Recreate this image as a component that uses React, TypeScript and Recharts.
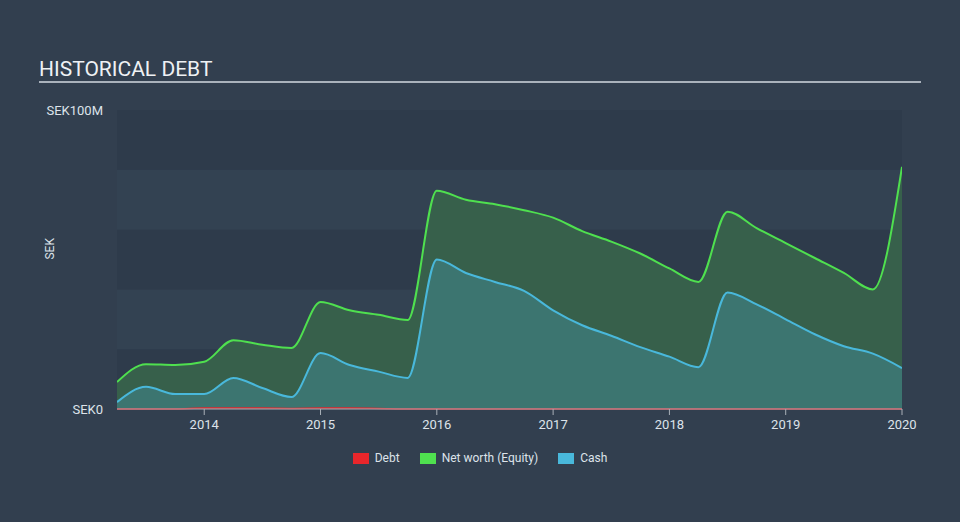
import React from 'react';
import { ComposedChart, Area, Line, XAxis, YAxis, ReferenceArea, Legend } from 'recharts';

const times = [2013.25, 2013.5, 2013.75, 2014.0, 2014.25, 2014.5, 2014.75, 2015.0, 2015.25, 2015.5, 2015.75, 2016.0, 2016.25, 2016.5, 2016.75, 2017.0, 2017.25, 2017.5, 2017.75, 2018.0, 2018.25, 2018.5, 2018.75, 2019.0, 2019.25, 2019.5, 2019.75, 2020.0];
const netWorth = [9, 15, 14.7, 15.8, 23, 21.5, 20.4, 35.8, 33, 31.5, 29.8, 73, 70, 68.5, 66.5, 64, 59.5, 56, 52, 47, 42.5, 66, 60.5, 55.5, 50.5, 45.5, 40, 81];
const cash = [2.3, 7.4, 5, 5, 10.4, 7, 4, 18.7, 14.7, 12.5, 10.4, 50, 45.5, 42.5, 39.5, 33, 28, 24.5, 20.7, 17.5, 14, 39, 35, 30, 25, 21, 18.5, 13.7];
const debt = [0, 0, 0, 0.3, 0.3, 0.3, 0.2, 0.3, 0.3, 0.2, 0, 0, 0, 0, 0, 0, 0, 0, 0, 0, 0, 0, 0, 0, 0, 0, 0, 0];
const xTicks = [2014, 2015, 2016, 2017, 2018, 2019, 2020];
const yTicks = [0, 100];
const bands = [0, 20, 40, 60, 80, 100];

const data = times.map((t, i) => ({ t, netWorth: netWorth[i], cash: cash[i], debt: debt[i] }));

const legendItems = [
  { name: 'Debt', color: '#e8262b' },
  { name: 'Net worth (Equity)', color: '#4fe04f' },
  { name: 'Cash', color: '#49b8db' },
];

const LegendContent = () => (
  <div style={{ display: 'flex', justifyContent: 'center', fontFamily: 'Roboto, sans-serif', fontSize: 12, color: '#dde3ea' }}>
    {legendItems.map((it) => (
      <div key={it.name} style={{ display: 'flex', alignItems: 'center', margin: '0 10px' }}>
        <span style={{ display: 'inline-block', width: 16, height: 11, background: it.color, marginRight: 6 }} />
        <span>{it.name}</span>
      </div>
    ))}
  </div>
);

const yFmt = (v: number) => (v === 0 ? 'SEK0' : `SEK${v}M`);

export default function App() {
  return (
    <div style={{ position: 'absolute', left: 0, top: 0, width: 960, height: 522, background: '#323f4f', fontFamily: 'Roboto, sans-serif' }}>
      <div style={{ position: 'absolute', left: 39, top: 57, fontSize: 21, color: '#eef1f4', letterSpacing: 0 }}>HISTORICAL DEBT</div>
      <div style={{ position: 'absolute', left: 39, top: 81, width: 882, height: 2, background: '#aab2bc' }} />
      <ComposedChart width={960} height={522} data={data} margin={{ top: 110, right: 58, bottom: 69, left: 57 }}>
        {bands.slice(0, -1).map((b, i) => (
          <ReferenceArea key={b} y1={b} y2={bands[i + 1]} fill={i % 2 === 0 ? '#2e3b4b' : '#334252'} fillOpacity={1} stroke="none" ifOverflow="visible" />
        ))}
        <XAxis
          dataKey="t"
          type="number"
          domain={[2013.25, 2020]}
          ticks={xTicks}
          allowDataOverflow
          tick={{ fill: '#dde3ea', fontSize: 13 }}
          stroke="#a9b0b8"
          tickSize={6}
          tickMargin={5}
          height={30}
        />
        <YAxis
          domain={[0, 100]}
          ticks={yTicks}
          tickFormatter={yFmt}
          width={60}
          axisLine={false}
          tickLine={false}
          tickSize={0}
          tickMargin={14}
          tick={{ fill: '#dde3ea', fontSize: 13 }}
          label={{ value: 'SEK', angle: -90, position: 'insideLeft', offset: 0, fill: '#dde3ea', fontSize: 12, dx: -7 }}
        />
        <Area type="monotone" dataKey="netWorth" stroke="none" fill="#37604b" fillOpacity={1} isAnimationActive={false} />
        <Area type="monotone" dataKey="cash" stroke="none" fill="#3c7570" fillOpacity={1} isAnimationActive={false} />
        <Line type="monotone" dataKey="netWorth" stroke="#4fe04f" strokeWidth={2} dot={false} isAnimationActive={false} />
        <Line type="monotone" dataKey="cash" stroke="#49b8db" strokeWidth={2} dot={false} isAnimationActive={false} />
        <Line type="monotone" dataKey="debt" stroke="#e8262b" strokeWidth={1.5} dot={false} isAnimationActive={false} />
        <Legend verticalAlign="bottom" content={<LegendContent />} wrapperStyle={{ top: 451, left: 0, width: 960 }} />
      </ComposedChart>
    </div>
  );
}
